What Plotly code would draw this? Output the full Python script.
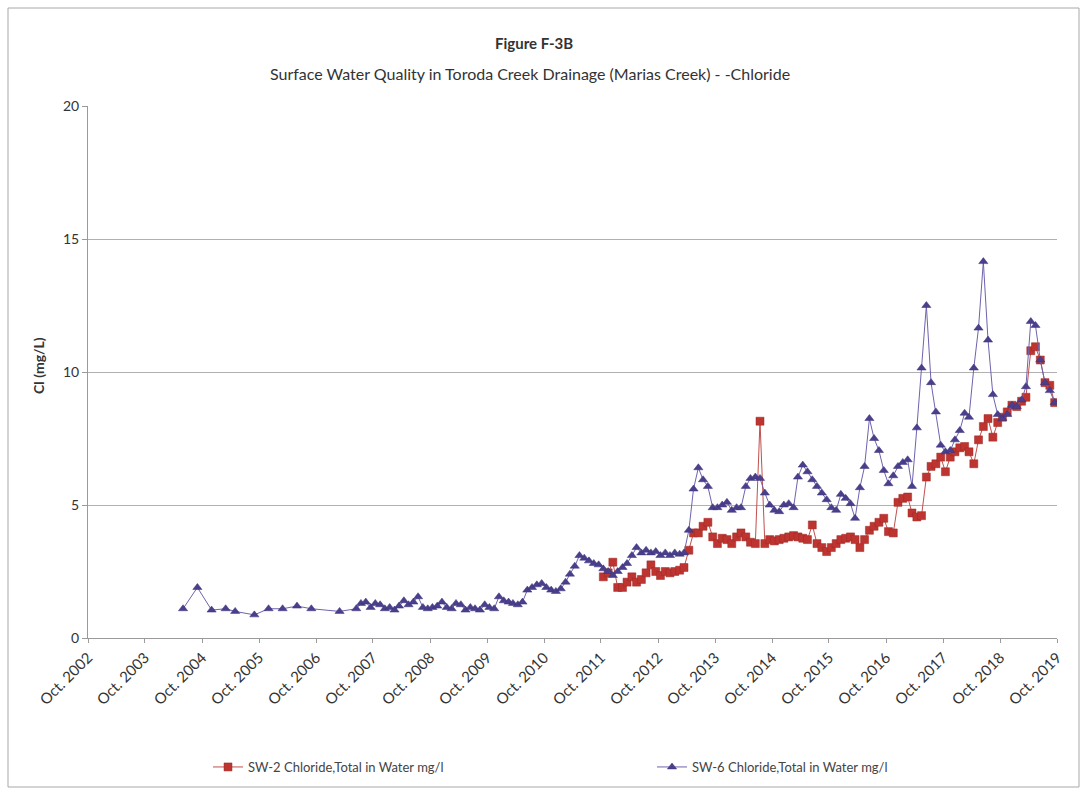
import pandas as pd
import plotly.graph_objects as go

# ---------------- data ----------------
# SW-6: early quarterly samples
sw6_early_dates = ["2004-06-01", "2004-09-01", "2004-12-01", "2005-03-01", "2005-05-01",
                   "2005-09-01", "2005-12-01", "2006-03-01", "2006-06-01", "2006-09-01",
                   "2007-03-01"]
sw6_early_vals = [1.1, 1.9, 1.05, 1.1, 1.0, 0.87, 1.1, 1.1, 1.2, 1.1, 1.0]

# SW-6: monthly samples (mid-month) from June 2007
sw6_monthly_start = "2007-06-01"
sw6_monthly_vals = [
    1.1, 1.3, 1.35, 1.15, 1.3, 1.25, 1.1, 1.15, 1.05, 1.2,
    1.4, 1.25, 1.35, 1.55, 1.15, 1.1, 1.15, 1.2, 1.35, 1.15,
    1.1, 1.3, 1.25, 1.05, 1.15, 1.1, 1.05, 1.25, 1.15, 1.1,
    1.55, 1.4, 1.35, 1.3, 1.25, 1.35, 1.8, 1.9, 2.0, 2.05,
    1.9, 1.8, 1.75, 1.85, 2.1, 2.4, 2.7, 3.1, 3.0, 2.9,
    2.8, 2.75, 2.6, 2.5, 2.35, 2.5, 2.65, 2.8, 3.1, 3.4,
    3.2, 3.3, 3.2, 3.25, 3.1, 3.2, 3.1, 3.2, 3.15, 3.2,
    4.05, 5.6, 6.4, 5.95, 5.7, 4.9, 4.9, 5.0, 5.1, 4.8,
    4.9, 4.9, 5.7, 6.0, 6.05, 6.0, 5.45, 5.0, 4.8, 4.75,
    5.0, 5.05, 4.9, 6.05, 6.5, 6.25, 5.95, 5.7, 5.45, 5.2,
    4.9, 4.8, 5.4, 5.25, 5.05, 4.5, 5.65, 6.45, 8.25, 7.5,
    7.05, 6.3, 5.8, 6.1, 6.45, 6.6, 6.7, 5.7, 7.9, 10.15,
    12.5, 9.6, 8.5, 7.25, 7.0, 7.05, 7.45, 7.8, 8.45, 8.3,
    10.15, 11.65, 14.15, 11.2, 9.15, 8.4, 8.25, 8.4, 8.75, 8.7,
    8.95, 9.45, 11.9, 11.75, 10.45, 9.6, 9.3, 8.85,
]

# SW-2: monthly samples (mid-month) from October 2011
sw2_monthly_start = "2011-10-01"
sw2_monthly_vals = [
    2.3, 2.45, 2.85, 1.9, 1.9, 2.1, 2.3, 2.1, 2.2, 2.45,
    2.75, 2.5, 2.35, 2.5, 2.45, 2.5, 2.55, 2.65, 3.3, 3.95,
    3.95, 4.2, 4.35, 3.8, 3.55, 3.75, 3.7, 3.55, 3.8, 3.95,
    3.8, 3.6, 3.55, 8.15, 3.55, 3.7, 3.65, 3.7, 3.75, 3.8,
    3.85, 3.8, 3.75, 3.7, 4.25, 3.55, 3.4, 3.25, 3.4, 3.55,
    3.7, 3.75, 3.8, 3.7, 3.4, 3.7, 4.05, 4.2, 4.35, 4.5,
    4.0, 3.95, 5.1, 5.25, 5.3, 4.7, 4.55, 4.6, 6.05, 6.45,
    6.55, 6.8, 6.25, 6.8, 7.0, 7.15, 7.2, 7.0, 6.55, 7.45,
    7.95, 8.25, 7.55, 8.1, 8.3, 8.5, 8.75, 8.7, 8.9, 9.05,
    10.8, 10.95, 10.45, 9.6, 9.5, 8.85,
]

tick_years = list(range(2002, 2020))
tick_dates = [f"{y}-10-01" for y in tick_years]
tick_text = [f"Oct. {y}" for y in tick_years]

mid_month = pd.Timedelta(days=15)
sw6_dates = pd.to_datetime(sw6_early_dates).append(
    pd.date_range(sw6_monthly_start, periods=len(sw6_monthly_vals), freq="MS") + mid_month)
sw6_vals = sw6_early_vals + sw6_monthly_vals
sw2_dates = pd.date_range(sw2_monthly_start, periods=len(sw2_monthly_vals), freq="MS") + mid_month

# ---------------- figure ----------------
FONT = "Lato, 'Open Sans', sans-serif"
TXT = "#333333"
W, H = 1086, 795
L, R, T, B = 88, 29, 106, 157
pw, ph = W - L - R, H - T - B


def px(x):
    return (x - L) / pw


def py(y):
    return (H - B - y) / ph


fig = go.Figure()
fig.add_trace(go.Scatter(
    x=sw2_dates, y=sw2_monthly_vals, mode="lines+markers",
    name="SW-2 Chloride,Total in Water mg/l", legend="legend",
    line=dict(color="#C0504D", width=1),
    marker=dict(symbol="square", size=8, color="#BE3430",
                line=dict(color="#9E2A26", width=0.5)),
))
fig.add_trace(go.Scatter(
    x=sw6_dates, y=sw6_vals, mode="lines+markers",
    name="SW-6 Chloride,Total in Water mg/l", legend="legend2",
    line=dict(color="#6E63AE", width=1),
    marker=dict(symbol="triangle-up", size=8, color="#4A3F8C",
                line=dict(color="#3B3278", width=0.5)),
))

legend_style = dict(orientation="h", xanchor="left", yanchor="middle",
                    font=dict(size=13, color="#444444", family=FONT),
                    bgcolor="rgba(0,0,0,0)", itemwidth=30)

fig.update_layout(
    width=W, height=H,
    margin=dict(l=L, r=R, t=T, b=B),
    paper_bgcolor="white", plot_bgcolor="white",
    font=dict(family=FONT, color=TXT, size=12),
    showlegend=True,
    legend=dict(x=px(208), y=py(767), **legend_style),
    legend2=dict(x=px(652), y=py(767), **legend_style),
)

fig.update_xaxes(
    type="date", range=["2002-10-01", "2019-10-01"],
    tickmode="array", tickvals=tick_dates, ticktext=tick_text,
    tickangle=-45, tickfont=dict(size=15, color=TXT),
    showgrid=False, showline=True, linecolor="#9A9A9A", linewidth=1,
    ticks="outside", ticklen=4, tickcolor="#9A9A9A", zeroline=False,
)
fig.update_yaxes(
    range=[0, 20], tickvals=[0, 5, 10, 15, 20],
    tickfont=dict(size=14, color=TXT),
    showgrid=True, gridcolor="#B0B0B0", gridwidth=1,
    showline=True, linecolor="#9A9A9A", linewidth=1,
    ticks="outside", ticklen=5, tickcolor="#9A9A9A", zeroline=False,
)

# chart frame
fig.add_shape(type="rect", xref="paper", yref="paper",
              x0=px(8), x1=px(1079), y0=py(787), y1=py(8),
              line=dict(color="#A8A8A8", width=1), fillcolor="rgba(0,0,0,0)", layer="below")

fig.add_annotation(text="<b>Figure F-3B</b>", xref="paper", yref="paper",
                   x=px(534), y=py(43), xanchor="center", yanchor="middle", showarrow=False,
                   font=dict(size=15, color=TXT, family=FONT))
fig.add_annotation(text="Surface Water Quality in Toroda Creek Drainage (Marias Creek) - -Chloride",
                   xref="paper", yref="paper", x=px(530), y=py(73),
                   xanchor="center", yanchor="middle", showarrow=False,
                   font=dict(size=16, color=TXT, family=FONT))
fig.add_annotation(text="<b>Cl (mg/L)</b>", xref="paper", yref="paper",
                   x=px(38), y=py(366), xanchor="center", yanchor="middle",
                   showarrow=False, textangle=-90,
                   font=dict(size=14, color=TXT, family=FONT))

fig.write_html("out.html")
